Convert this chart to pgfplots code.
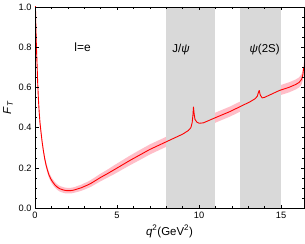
\documentclass[border=0pt]{standalone}
\usepackage{pgfplots}
\pgfplotsset{compat=1.18}
\usepackage{pgfplotstable}
\usepgfplotslibrary{fillbetween}
\usepackage{fontspec}
\setmainfont{Liberation Sans}
\definecolor{bandpink}{RGB}{255,190,200}

\pgfplotstableread{
x     f      lo     hi
0.015 1.04   1.026  1.054
0.05  0.90   0.886  0.914
0.08  0.81   0.796  0.824
0.12  0.72   0.706  0.734
0.16  0.625  0.611  0.639
0.20  0.55   0.536  0.564
0.25  0.48   0.466  0.494
0.30  0.425  0.411  0.439
0.36  0.38   0.366  0.394
0.43  0.33   0.316  0.344
0.50  0.29   0.276  0.304
0.58  0.250  0.236  0.264
0.67  0.215  0.201  0.229
0.76  0.188  0.174  0.202
0.85  0.165  0.151  0.179
0.95  0.147  0.133  0.161
1.05  0.133  0.119  0.147
1.20  0.117  0.103  0.131
1.35  0.105  0.091  0.119
1.50  0.097  0.083  0.111
1.70  0.091  0.077  0.105
1.85  0.088  0.074  0.102
2.00  0.087  0.073  0.101
2.15  0.087  0.073  0.101
2.30  0.089  0.075  0.103
2.45  0.092  0.078  0.106
2.60  0.096  0.081  0.111
2.80  0.101  0.086  0.116
3.00  0.108  0.092  0.124
3.20  0.115  0.099  0.131
3.40  0.123  0.106  0.140
3.70  0.138  0.120  0.156
4.00  0.153  0.134  0.172
4.40  0.171  0.151  0.191
4.80  0.190  0.168  0.212
5.30  0.214  0.191  0.237
5.80  0.238  0.214  0.262
6.40  0.265  0.240  0.290
7.00  0.292  0.267  0.317
8.00  0.330  0.305  0.355
9.00  0.368  0.343  0.393
9.35  0.386  0.360  0.412
9.50  0.400  0.373  0.427
9.58  0.425  0.397  0.453
9.63  0.465  0.437  0.493
9.66  0.503  0.475  0.531
9.70  0.470  0.442  0.498
9.75  0.442  0.415  0.469
9.86  0.428  0.402  0.454
10.00 0.422  0.397  0.447
10.26 0.424  0.399  0.449
11.00 0.450  0.425  0.475
11.88 0.480  0.455  0.505
13.09 0.528  0.503  0.553
13.40 0.543  0.517  0.569
13.55 0.556  0.530  0.582
13.62 0.575  0.548  0.602
13.67 0.585  0.558  0.612
13.73 0.563  0.536  0.590
13.85 0.548  0.522  0.574
14.00 0.551  0.526  0.576
14.90 0.585  0.560  0.610
15.50 0.601  0.576  0.626
15.90 0.615  0.590  0.640
16.10 0.625  0.600  0.650
16.25 0.640  0.614  0.666
16.33 0.662  0.635  0.689
16.38 0.700  0.672  0.728
}\datatable

\begin{document}
\begin{tikzpicture}
\begin{axis}[
  scale only axis,
  width=270pt, height=202pt,
  xmin=0, xmax=16.4, ymin=0, ymax=1.0,
  axis line style={line width=0.9pt},
  tick style={black, line width=0.6pt},
  tick align=inside,
  major tick length=3.5pt, minor tick length=2pt,
  xtick={0,5,10,15}, minor x tick num=4,
  ytick={0,0.2,0.4,0.6,0.8,1.0}, minor y tick num=3,
  yticklabel style={/pgf/number format/.cd, fixed, fixed zerofill, precision=1},
  xticklabel style={/pgf/number format/.cd, fixed, precision=0},
  /pgf/number format/assume math mode=true,
  ticklabel style={font=\fontsize{9.3}{10}\selectfont},
  xlabel={\textit{q}\textsuperscript{2}(GeV\textsuperscript{2})},
  ylabel={\textit{F}\textsubscript{\textit{T}}},
  label style={font=\fontsize{11.5}{12}\selectfont},
  xlabel style={at={(axis description cs:0.5,-0.115)}, anchor=center},
  ylabel style={at={(axis description cs:-0.1,0.5)}, anchor=center},
  axis on top,
  clip=true,
]
\fill[gray!30] (axis cs:8,0) rectangle (axis cs:11,1);
\fill[gray!30] (axis cs:12.5,0) rectangle (axis cs:15,1);
\addplot[name path=hi, draw=none, forget plot] table[x=x, y=hi] {\datatable};
\addplot[name path=lo, draw=none, forget plot] table[x=x, y=lo] {\datatable};
\addplot[fill=bandpink, draw=none] fill between[of=hi and lo];
\addplot[red, line width=0.9pt, line join=round] table[x=x, y=f] {\datatable};
\node[font=\fontsize{12}{13}\selectfont] at (axis cs:2.9,0.80) {l=e};
\node[font=\fontsize{11.5}{12}\selectfont] at (axis cs:8.9,0.79) {J/\textit{ψ}};
\node[font=\fontsize{11.5}{12}\selectfont] at (axis cs:14.0,0.79) {\textit{ψ}(2S)};
\end{axis}
\path ([shift={(-34pt,-35pt)}]current axis.south west) rectangle ([shift={(1pt,7pt)}]current axis.north east);
\end{tikzpicture}
\end{document}
